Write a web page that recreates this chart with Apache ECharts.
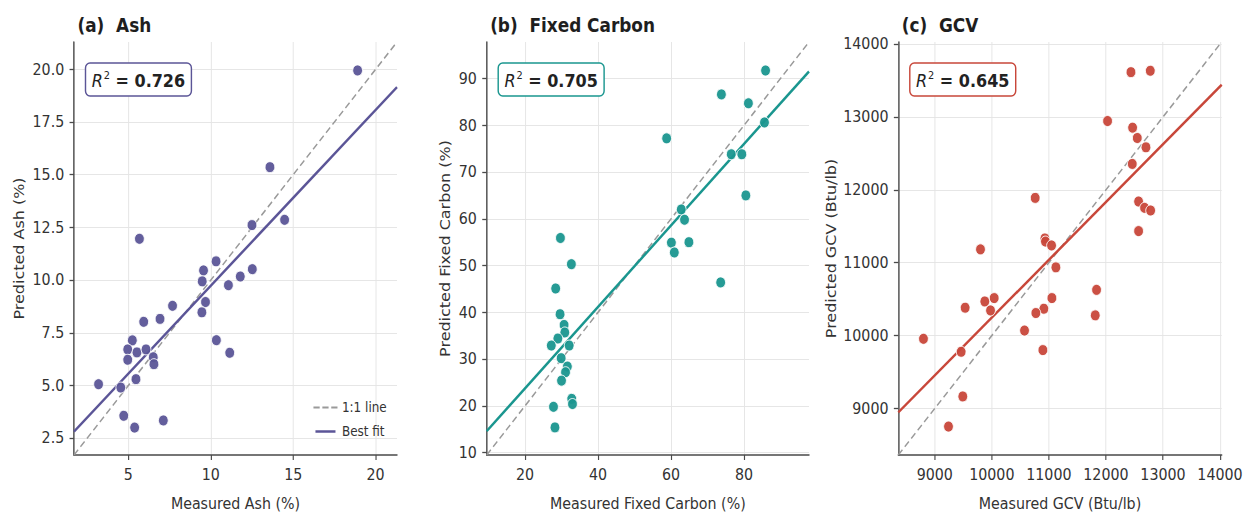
<!DOCTYPE html>
<html>
<head>
<meta charset="utf-8">
<script src="https://cdn.jsdelivr.net/npm/echarts@6/dist/echarts.min.js"></script>
<style>
html,body{margin:0;padding:0;background:#fff;overflow:hidden;}
#wrap{width:1250px;height:517px;overflow:hidden;position:relative;}
#chart{position:absolute;left:0;top:0;height:517px;transform-origin:0 0;}
</style>
</head>
<body>
<div id="wrap"><div id="chart"></div></div>
<script>
// ---------- data ----------
const ashMeasured  = [18.91,13.59,12.50,14.48,5.67,10.32,9.56,9.48,12.52,11.79,11.07,9.68,9.46,7.68,6.92,5.93,5.24,4.96,4.96,5.52,6.07,6.51,6.55,10.34,11.15,3.19,4.54,5.46,4.72,5.38,7.12];
const ashPredicted = [19.95,15.36,12.61,12.86,11.96,10.89,10.46,9.94,10.52,10.17,9.76,8.96,8.47,8.78,8.16,8.02,7.14,6.71,6.22,6.57,6.71,6.34,6.01,7.15,6.55,5.06,4.90,5.30,3.56,3.00,3.34];
const fcMeasured  = [85.9,73.8,81.2,85.6,58.8,76.5,79.4,80.5,62.8,63.7,60.1,60.9,64.9,73.6,29.7,32.7,28.4,29.6,30.7,30.9,29.0,27.2,32.1,29.9,31.6,31.1,30.0,32.8,33.0,27.8,28.2];
const fcPredicted = [91.7,86.6,84.7,80.6,77.2,73.8,73.8,65.0,62.0,59.8,54.9,52.8,55.0,46.4,55.9,50.3,45.1,39.6,37.3,35.7,34.4,32.9,32.9,30.2,28.4,27.2,25.4,21.5,20.4,19.8,15.4];
const gcvMeasured  = [12439,12778,12029,12468,12550,12702,12462,12573,12678,12784,12573,10760,10930,10940,11047,9801,11123,10041,9877,9977,9532,11053,10912,10772,11836,11813,10573,10895,8801,9462,9491,9240];
const gcvPredicted = [13616,13635,12945,12854,12712,12584,12356,11840,11753,11717,11434,11890,11333,11290,11237,11183,10936,10514,10468,10345,10382,10514,10368,10309,10627,10277,10068,9800,9955,9777,9164,8750];

const ashRange = [1.7, 21.3];
const fcRange  = [9.5, 97.8];
const gcvRange = [8360, 14030];

// best-fit line end points [x, y]
const ashFit = [[1.7, 2.81], [21.3, 19.16]];
const fcFit  = [[9.5, 14.6], [97.8, 91.5]];
const gcvFit = [[8360, 8945], [14030, 13443]];

const ashTicksX = [5, 10, 15, 20];
const ashTicksY = [2.5, 5, 7.5, 10, 12.5, 15, 17.5, 20];
const fcTicksX  = [20, 40, 60, 80];
const fcTicksY  = [10, 20, 30, 40, 50, 60, 70, 80, 90];
const gcvTicksX = [9000, 10000, 11000, 12000, 13000, 14000];
const gcvTicksY = [9000, 10000, 11000, 12000, 13000, 14000];

const r2Values = ['0.726', '0.705', '0.645'];
const panelTitles = ['(a)  Ash', '(b)  Fixed Carbon', '(c)  GCV'];
const xNames = ['Measured Ash (%)', 'Measured Fixed Carbon (%)', 'Measured GCV (Btu/lb)'];
const yNames = ['Predicted Ash (%)', 'Predicted Fixed Carbon (%)', 'Predicted GCV (Btu/lb)'];
const legendNames = ['1:1 line', 'Best fit'];
const colors = ['#5b5597', '#1a968f', '#c8473a'];

// ---------- layout ----------
const S = 0.89;                 // horizontal squeeze of the reference
const W = 1250 / S;
const X = px => px / S;
const FONT = 'DejaVu Sans';

const chartEl = document.getElementById('chart');
chartEl.style.width = W + 'px';
chartEl.style.transform = 'scaleX(' + S + ')';

const panels = [
  {mx: ashMeasured, py: ashPredicted, range: ashRange, fit: ashFit, tx: ashTicksX, ty: ashTicksY,
   left: 74, right: 397, yFmt: v => v.toFixed(1), xFmt: v => String(v), yGap: 53},
  {mx: fcMeasured, py: fcPredicted, range: fcRange, fit: fcFit, tx: fcTicksX, ty: fcTicksY,
   left: 486.7, right: 809, yFmt: v => String(v), xFmt: v => String(v), yGap: 39},
  {mx: gcvMeasured, py: gcvPredicted, range: gcvRange, fit: gcvFit, tx: gcvTicksX, ty: gcvTicksY,
   left: 898.3, right: 1221.7, yFmt: v => String(v), xFmt: v => String(v), yGap: 67}
];

const TOP = 42, HEIGHT = 413.7;
const axisColor = '#4a4a4a';
const gridColor = '#e4e4e4';

const grid = [], xAxis = [], yAxis = [], series = [], title = [];

panels.forEach((p, i) => {
  grid.push({left: X(p.left), top: TOP, width: X(p.right) - X(p.left), height: HEIGHT, containLabel: false});
  const common = {
    type: 'value', gridIndex: i, min: p.range[0], max: p.range[1],
    nameLocation: 'middle',
    nameTextStyle: {fontFamily: FONT, fontSize: 16, color: '#333'},
    axisLine: {show: true, lineStyle: {color: axisColor, width: 1.6}},
    splitLine: {show: true, lineStyle: {color: gridColor, width: 1}},
  };
  xAxis.push(Object.assign({}, common, {
    name: xNames[i], nameGap: 41,
    axisTick: {show: true, inside: false, length: 5, lineStyle: {color: axisColor, width: 1.3}, customValues: p.tx},
    axisLabel: {customValues: p.tx, formatter: p.xFmt, fontFamily: FONT, fontSize: 16, color: '#333', margin: 12},
  }));
  yAxis.push(Object.assign({}, common, {
    name: yNames[i], nameGap: p.yGap, nameRotate: 90,
    axisTick: {show: true, inside: false, length: 5, lineStyle: {color: axisColor, width: 1.3}, customValues: p.ty},
    axisLabel: {customValues: p.ty, formatter: p.yFmt, fontFamily: FONT, fontSize: 16, color: '#333', margin: 11},
  }));
  // 1:1 line
  series.push({
    name: legendNames[0], type: 'line', xAxisIndex: i, yAxisIndex: i,
    data: [[p.range[0], p.range[0]], [p.range[1], p.range[1]]],
    symbol: 'none', silent: true, z: 2,
    lineStyle: {color: '#9a9a9a', width: 1.6, type: [7, 4]},
    itemStyle: {color: '#9a9a9a'}
  });
  // best fit
  series.push({
    name: legendNames[1], type: 'line', xAxisIndex: i, yAxisIndex: i,
    data: p.fit, symbol: 'none', silent: true, z: 3,
    lineStyle: {color: colors[i], width: 2.6},
    itemStyle: {color: colors[0]}
  });
  // points
  series.push({
    name: 'points' + i, type: 'scatter', xAxisIndex: i, yAxisIndex: i,
    data: p.mx.map((v, k) => [v, p.py[k]]),
    symbolSize: 11, z: 4,
    itemStyle: {color: colors[i], borderColor: '#ffffff', borderWidth: 1, opacity: 0.95}
  });
  // panel title
  title.push({
    text: panelTitles[i], left: X(p.left - 1), top: 11,
    textStyle: {fontFamily: FONT, fontSize: 19, fontWeight: 'bold', color: '#1e1e1e'}
  });
  // R^2 box
  title.push({
    text: '{r|R}{s|2}{b| = ' + r2Values[i] + '}',
    left: X(p.left + 11.5), top: 63,
    padding: [6, 7, 6, 7],
    backgroundColor: '#ffffff', borderColor: colors[i], borderWidth: 1.6, borderRadius: 5,
    textStyle: {
      fontWeight: 'normal',
      rich: {
        r: {fontFamily: FONT, fontSize: 18, fontStyle: 'italic', fontWeight: 'normal', color: '#222', lineHeight: 24},
        s: {fontFamily: FONT, fontSize: 11, fontWeight: 'normal', color: '#222', verticalAlign: 'top', lineHeight: 14, padding: [0, 0, 0, 1]},
        b: {fontFamily: FONT, fontSize: 18, fontWeight: 'bold', color: '#222', lineHeight: 24}
      }
    }
  });
});

const chart = echarts.init(chartEl, null, {renderer: 'svg'});
chart.setOption({
  backgroundColor: '#ffffff',
  animation: false,
  title: title,
  grid: grid,
  xAxis: xAxis,
  yAxis: yAxis,
  legend: {
    data: [
      {name: legendNames[0], icon: 'path://M0,0h7v2h-7z M10,0h7v2h-7z M20,0h7v2h-7z', itemStyle: {color: '#9a9a9a'}},
      {name: legendNames[1], icon: 'path://M0,0h27v3h-27z', itemStyle: {color: colors[0]}}
    ],
    orient: 'vertical',
    left: X(309), top: 395,
    itemWidth: 27, itemHeight: 2.5, itemGap: 9,
    textStyle: {fontFamily: FONT, fontSize: 13.5, color: '#333', lineHeight: 15},
    selectedMode: false
  },
  series: series
});
</script>
</body>
</html>
